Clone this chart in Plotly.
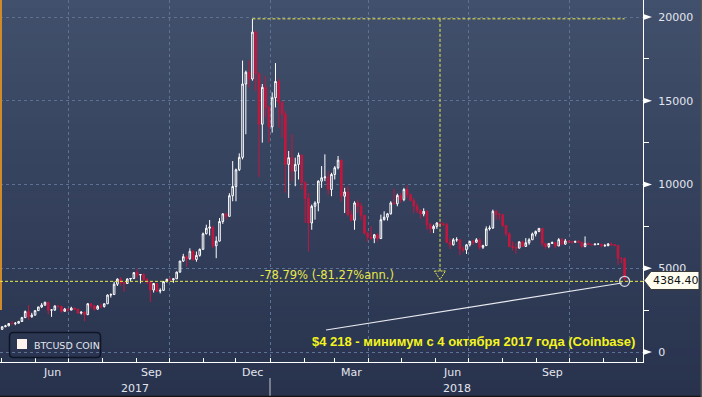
import plotly.graph_objects as go
import pandas as pd

# ---------------- data (3-day candles) ----------------
FIRST_OPEN = 1350
CLOSE = [
    1510, 1560, 1700, 1690, 1720, 1820, 2050, 2420, 2100, 2200,
    2470, 2690, 2800, 2970, 2500, 2510, 2750, 2720, 2430, 2560,
    2500, 2620, 2560, 2320, 2380, 2230, 2880, 2760, 2560, 2730,
    2720, 2880, 3400, 3430, 4050, 4350, 4150, 4090, 4360, 4390,
    4740, 4600, 4620, 4330, 4180, 3700, 4090, 3630, 3680, 4200,
    4340, 4310, 4370, 4770, 5430, 5690, 5570, 6010, 5520, 5770,
    6130, 7060, 7390, 7460, 6340, 6620, 7790, 8250, 8100, 9330,
    9880, 10880, 11620, 16000, 16700, 16300, 19100, 16600, 13600, 15800,
    14600, 13440, 15180, 16150, 14900, 14200, 11200, 11600, 10800, 11200,
    11750, 10100, 9170, 7700, 8700, 8900, 10200, 10400, 10450, 9700,
    10600, 11000, 11450, 9300, 9550, 8200, 7870, 8900, 8700, 8150,
    7100, 6850, 6800, 7000, 6770, 7900, 8050, 8250, 8900, 8850,
    9350, 9100, 9700, 9400, 9050, 8700, 8470, 8240, 8400, 7600,
    7350, 7500, 7700, 7650, 7600, 6550, 6400, 6700, 6700, 6150,
    6100, 6400, 6600, 6550, 6700, 6250, 6350, 7350, 7400, 8400,
    8200, 8200, 7550, 7050, 6300, 6250, 6200, 6580, 6300, 6520,
    6700, 7050, 7200, 7380, 6480, 6300, 6480, 6530, 6330, 6710,
    6440, 6630, 6600, 6550, 6600, 6550, 6300, 6480, 6420, 6400,
    6440, 6440, 6330, 6350, 6450, 6400, 6360, 5600, 5580, 4384.40,
]
HIGH = [
    1520, 1620, 1720, 1850, 1790, 1860, 2100, 2480, 2790, 2340,
    2490, 2700, 2920, 3000, 3000, 2560, 2780, 2800, 2760, 2630,
    2600, 2700, 2640, 2570, 2420, 2420, 2920, 2880, 2800, 2800,
    2900, 2900, 3440, 3500, 4200, 4400, 4480, 4200, 4400, 4400,
    4760, 4980, 4650, 4700, 4400, 4200, 4100, 4100, 3800, 4240,
    4370, 4450, 4390, 4800, 5440, 5860, 5780, 6190, 6080, 6000,
    6180, 7130, 7600, 7880, 7500, 6900, 8000, 8270, 8300, 9480,
    11400, 10950, 11860, 17400, 16800, 17400, 19890, 19200, 16700, 16000,
    16500, 14700, 15500, 17250, 16300, 15000, 14400, 12000, 13000, 11600,
    11900, 11800, 10200, 9500, 8800, 9000, 10250, 11100, 11800, 10800,
    10700, 11100, 11700, 11500, 9800, 9900, 8450, 9000, 9100, 8900,
    8200, 7200, 7500, 7050, 7100, 8200, 8400, 8300, 9000, 9750,
    9450, 9500, 9800, 9950, 9450, 9200, 8880, 8500, 8580, 8450,
    7700, 7600, 7750, 7750, 7750, 7700, 6800, 6800, 6850, 6750,
    6300, 6450, 6650, 6700, 6800, 6780, 6400, 7500, 7550, 8500,
    8480, 8300, 8250, 7600, 7150, 6600, 6500, 6600, 6650, 6800,
    6800, 7130, 7250, 7400, 7400, 6500, 6500, 6600, 6550, 6800,
    6800, 6750, 6660, 6620, 6650, 6680, 6600, 6900, 6550, 6460,
    6480, 6480, 6450, 6450, 6500, 6550, 6420, 6400, 5650, 5650,
]
LOW = [
    1340, 1480, 1540, 1650, 1600, 1690, 1890, 2030, 1910, 2050,
    2180, 2450, 2620, 2750, 2250, 2100, 2450, 2600, 2350, 2400,
    2400, 2500, 2500, 2290, 2240, 1840, 2200, 2600, 2460, 2520,
    2600, 2650, 2860, 3250, 3450, 3940, 3950, 3600, 4070, 4240,
    4350, 4400, 4100, 4200, 4060, 2980, 3550, 3580, 3500, 3660,
    4150, 4230, 4130, 4380, 4730, 5380, 5100, 5500, 5450, 5390,
    5690, 6100, 7020, 6950, 6200, 5600, 6600, 7650, 7900, 8100,
    9000, 9000, 10800, 11500, 13000, 15800, 16200, 15600, 10450, 12500,
    14000, 12500, 13100, 14600, 13400, 12800, 9500, 9200, 10200, 9900,
    10300, 9700, 7700, 6000, 7300, 7900, 8400, 9800, 10200, 9400,
    9300, 10300, 10900, 9000, 8300, 8100, 7800, 7300, 8300, 7900,
    7000, 6600, 6700, 6500, 6600, 6800, 7850, 7850, 8200, 8800,
    8700, 8900, 9000, 9200, 9000, 8300, 8300, 7950, 8100, 7300,
    7100, 7100, 7350, 7450, 7550, 6500, 6150, 6350, 6580, 5780,
    5950, 5850, 6300, 6400, 6520, 6100, 6150, 6350, 7250, 7350,
    7900, 7900, 7450, 6900, 6250, 6050, 5880, 6200, 6250, 6300,
    6400, 6700, 6900, 7150, 6300, 6150, 6200, 6450, 6200, 6320,
    6400, 6400, 6500, 6480, 6530, 6500, 6200, 6250, 6400, 6380,
    6380, 6400, 6250, 6300, 6310, 6350, 6320, 5200, 5300, 4218,
]
OPEN = [FIRST_OPEN] + CLOSE[:-1]
DATES = pd.date_range("2017-05-02", periods=len(CLOSE), freq="3D")

LAST_PRICE = 4384.40
LOW_SINCE = 4218
SERIES_NAME = "BTCUSD COIN"
DRAWDOWN_TEXT = "-78.79% (-81.27%ann.)"
NOTE_TEXT = "$4 218 - минимум с 4 октября 2017 года (Coinbase)"
Y_TICKS = [0, 5000, 10000, 15000, 20000]
QUARTER_TICKS = ["2017-07-01", "2017-10-01", "2018-01-01", "2018-04-01", "2018-07-01", "2018-10-01"]
MONTH_LABELS = [("2017-06-16", "Jun"), ("2017-09-15", "Sep"), ("2017-12-16", "Dec"),
                ("2018-03-16", "Mar"), ("2018-06-16", "Jun"), ("2018-09-15", "Sep")]
YEAR_LABELS = ["2017", "2018"]

# ---------------- geometry helpers (pixel -> paper) ----------------
W, H = 702, 397
PL, PR, PT, PB = 0, 643, 0, 362
def px(x):
    return (x - PL) / (PR - PL)
def py(y):
    return (PB - y) / (PB - PT)

YELLOW = "#e9e94c"
YELLOW_B = "#f4f41e"
RED = "#c3173f"
GRID = "#5d7396"
TXT = "#e3e6ee"

fig = go.Figure()
fig.add_trace(go.Candlestick(
    x=DATES, open=OPEN, high=HIGH, low=LOW, close=CLOSE,
    increasing=dict(line=dict(color="white", width=1), fillcolor="rgba(0,0,0,0)"),
    decreasing=dict(line=dict(color=RED, width=1), fillcolor=RED),
    whiskerwidth=0, showlegend=False, hoverinfo="skip",
))

peak_i = HIGH.index(max(HIGH))
fig.add_trace(go.Scatter(
    x=[DATES[-1]], y=[LOW_SINCE], mode="markers",
    marker=dict(symbol="circle-open", size=10, color="#cfd3dc", line=dict(width=1.3)),
    showlegend=False, hoverinfo="skip",
))

shapes = []
# background gradient
N = 48
top = (65, 80, 108)
bot = (40, 50, 77)
for k in range(N):
    t = (k + 0.5) / N
    c = tuple(int(round(top[j] + (bot[j] - top[j]) * t)) for j in range(3))
    y0 = k * H / N
    y1 = (k + 1) * H / N + 0.6
    shapes.append(dict(type="rect", xref="paper", yref="paper", layer="below",
                       x0=px(-1), x1=px(W + 1), y0=py(y0), y1=py(y1),
                       fillcolor="rgb(%d,%d,%d)" % c, line=dict(width=0)))
# orange left marker
shapes.append(dict(type="line", xref="paper", yref="paper", x0=px(1), x1=px(1), y0=py(0), y1=py(310),
                   line=dict(color="#cf8a2c", width=2), layer="above"))
# yellow dashed: peak horizontal, vertical drop (with hollow arrow head), low horizontal
DROP_PX = 440
shapes.append(dict(type="line", xref="x", yref="y", x0=DATES[peak_i], x1=DATES[-1], y0=max(HIGH), y1=max(HIGH),
                   line=dict(color=YELLOW, width=1, dash="3px,2px")))
shapes.append(dict(type="line", xref="paper", yref="y", x0=px(DROP_PX), x1=px(DROP_PX), y0=max(HIGH), y1=4840,
                   line=dict(color=YELLOW, width=1, dash="3px,2px")))
shapes.append(dict(type="path", xref="paper", yref="paper",
                   path="M %.5f,%.5f L %.5f,%.5f L %.5f,%.5f Z" % (
                       px(DROP_PX - 5.5), py(271), px(DROP_PX + 5.5), py(271), px(DROP_PX), py(279.5)),
                   line=dict(color=YELLOW, width=1, dash="2px,1px"), fillcolor="rgba(0,0,0,0)"))
shapes.append(dict(type="line", xref="paper", yref="y", x0=0, x1=1, y0=LOW_SINCE, y1=LOW_SINCE,
                   line=dict(color=YELLOW, width=1, dash="3px,2px")))
# pointer line to note
shapes.append(dict(type="line", xref="paper", yref="paper", x0=px(326), y0=py(330), x1=px(622), y1=py(283),
                   line=dict(color="#e8eaf0", width=1.2)))
# right-axis triangles
for v in Y_TICKS:
    shapes.append(dict(type="path", xref="paper", yref="y",
                       path="M %.5f,%.1f L %.5f,%.1f L %.5f,%.1f Z" % (px(644), v + 170, px(652), v, px(644), v - 170),
                       fillcolor="white", line=dict(width=0), layer="above"))
# last price tag
shapes.append(dict(type="path", xref="paper", yref="paper",
                   path="M %.5f,%.5f L %.5f,%.5f L %.5f,%.5f L %.5f,%.5f L %.5f,%.5f Z" % (
                       px(644), py(280.5), px(651), py(271.5), px(699), py(271.5),
                       px(699), py(289.5), px(651), py(289.5)),
                   fillcolor="#fffcf0", line=dict(color="#3a3a3a", width=1), layer="above"))
# legend box (rounded)
lx0, lx1, ly0, ly1, r = 9.5, 100.5, 332.5, 357.5, 4
shapes.append(dict(type="path", xref="paper", yref="paper", layer="above",
                   path=("M %.5f,%.5f L %.5f,%.5f Q %.5f,%.5f %.5f,%.5f L %.5f,%.5f Q %.5f,%.5f %.5f,%.5f "
                         "L %.5f,%.5f Q %.5f,%.5f %.5f,%.5f L %.5f,%.5f Q %.5f,%.5f %.5f,%.5f Z") % (
                       px(lx0 + r), py(ly0), px(lx1 - r), py(ly0), px(lx1), py(ly0), px(lx1), py(ly0 + r),
                       px(lx1), py(ly1 - r), px(lx1), py(ly1), px(lx1 - r), py(ly1),
                       px(lx0 + r), py(ly1), px(lx0), py(ly1), px(lx0), py(ly1 - r),
                       px(lx0), py(ly0 + r), px(lx0), py(ly0), px(lx0 + r), py(ly0)),
                   fillcolor="rgba(0,0,0,0)", line=dict(color="#0e1526", width=1.5)))
shapes.append(dict(type="rect", xref="paper", yref="paper", layer="above",
                   x0=px(17), x1=px(27), y0=py(339), y1=py(349),
                   fillcolor="#fff2ef", line=dict(width=0)))
# year separator
shapes.append(dict(type="line", xref="x", yref="paper", x0="2018-01-01", x1="2018-01-01",
                   y0=py(378), y1=py(397), line=dict(color="#c4c8d0", width=1)))
# outer frame right/bottom
shapes.append(dict(type="line", xref="paper", yref="paper", x0=px(0), x1=px(702), y0=py(396.5), y1=py(396.5),
                   line=dict(color="#151515", width=1.5)))
shapes.append(dict(type="line", xref="paper", yref="paper", x0=px(701.3), x1=px(701.3), y0=py(0), y1=py(397),
                   line=dict(color="#555555", width=1.5)))

annotations = []
for d, lab in MONTH_LABELS:
    annotations.append(dict(x=d, y=py(372), xref="x", yref="paper", text=lab, showarrow=False,
                            font=dict(family="DejaVu Sans", size=11, color=TXT), xanchor="center", yanchor="middle"))
annotations.append(dict(x=px(135), y=py(388), xref="paper", yref="paper", text=YEAR_LABELS[0], showarrow=False,
                        font=dict(family="DejaVu Sans", size=11, color=TXT), xanchor="center", yanchor="middle"))
annotations.append(dict(x=px(457), y=py(388), xref="paper", yref="paper", text=YEAR_LABELS[1], showarrow=False,
                        font=dict(family="DejaVu Sans", size=11, color=TXT), xanchor="center", yanchor="middle"))
annotations.append(dict(x=px(258), y=py(274.5), xref="paper", yref="paper", text=DRAWDOWN_TEXT, showarrow=False,
                        font=dict(family="DejaVu Sans", size=11.5, color=YELLOW), xanchor="left", yanchor="middle"))
annotations.append(dict(x=px(637), y=py(341), xref="paper", yref="paper", text="<b>%s</b>" % NOTE_TEXT,
                        showarrow=False, font=dict(family="Liberation Sans", size=13, color=YELLOW_B),
                        xanchor="right", yanchor="middle"))
annotations.append(dict(x=px(675.5), y=py(280.5), xref="paper", yref="paper", text="%.2f" % LAST_PRICE,
                        showarrow=False, font=dict(family="DejaVu Sans", size=11, color="#111111"),
                        xanchor="center", yanchor="middle"))
annotations.append(dict(x=px(32), y=py(345), xref="paper", yref="paper", text=SERIES_NAME, showarrow=False,
                        font=dict(family="DejaVu Sans", size=9.5, color=TXT), xanchor="left", yanchor="middle"))

fig.update_layout(
    width=W, height=H,
    margin=dict(l=PL, r=W - PR, t=PT, b=H - PB, pad=0, autoexpand=False),
    paper_bgcolor="#33405d", plot_bgcolor="rgba(0,0,0,0)",
    showlegend=False,
    shapes=shapes, annotations=annotations,
    xaxis=dict(
        type="date", range=["2017-04-30 01:12", "2018-12-06 18:30"],
        rangeslider=dict(visible=False),
        showline=True, linecolor="white", linewidth=1,
        tickvals=QUARTER_TICKS, showticklabels=False,
        ticks="inside", ticklen=4, tickcolor="white", tickwidth=1,
        showgrid=True, gridcolor=GRID, griddash="dot", gridwidth=1,
        minor=dict(dtick="M1", tick0="2017-01-01", ticks="inside", ticklen=4, tickcolor="white", showgrid=False),
        zeroline=False, fixedrange=True,
    ),
    yaxis=dict(
        side="right", range=[-597, 21015],
        tickvals=Y_TICKS, ticktext=[str(v) for v in Y_TICKS],
        tickfont=dict(family="DejaVu Sans", size=11, color=TXT),
        ticks="", ticklabelstandoff=12,
        showline=True, linecolor="white", linewidth=1,
        showgrid=True, gridcolor=GRID, griddash="dot", gridwidth=1,
        minor=dict(dtick=2500, tick0=0, ticks="outside", ticklen=5, tickcolor="white", showgrid=False),
        zeroline=False, fixedrange=True,
    ),
)

fig.write_html("out.html", config={"displayModeBar": False},
               post_script="document.body.style.margin='0';document.body.style.padding='0';"
                           "document.body.style.overflow='hidden';")
